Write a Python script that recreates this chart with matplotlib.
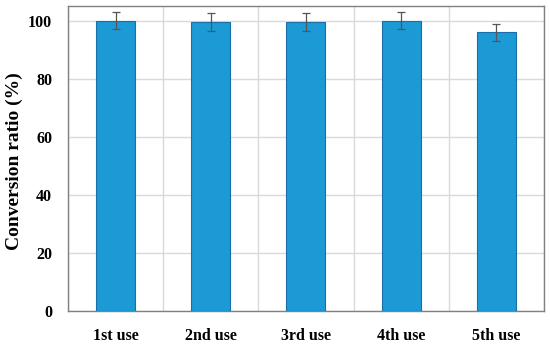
import matplotlib
matplotlib.use("Agg")
import matplotlib.pyplot as plt
import numpy as np

categories = ["1st use", "2nd use", "3rd use", "4th use", "5th use"]
values = [100.0, 99.5, 99.5, 100.0, 96.0]
errors = [3.0, 3.0, 3.0, 3.0, 2.9]

plt.rcParams['font.family'] = ['Liberation Serif', 'DejaVu Serif']

fig = plt.figure(figsize=(5.5, 3.46), dpi=100)
ax = fig.add_axes([0.1236, 0.1012, 0.8654, 0.8815])
x = np.arange(len(categories))
ax.bar(x, values, width=0.41, color="#1B9AD6", edgecolor="#1A6FA8", linewidth=0.8, zorder=3)
ax.errorbar(x, values, yerr=errors, fmt="none", ecolor="#555555", elinewidth=0.9, capsize=3, capthick=0.9, zorder=4)
ax.set_xlim(-0.5, len(categories) - 0.5)
ax.set_ylim(0, 105)
ax.set_yticks(np.arange(0, 101, 20))
ax.set_xticks(x)
ax.set_xticklabels(categories, fontsize=11.5, fontweight="bold")
for lab in ax.get_yticklabels():
    lab.set_fontsize(11.5)
    lab.set_fontweight("bold")
ax.set_xticks(np.arange(-0.5, len(categories), 1), minor=True)
ax.grid(axis="y", which="major", color="#D9D9D9", linewidth=1, zorder=0)
ax.grid(axis="x", which="minor", color="#D9D9D9", linewidth=1, zorder=0)
ax.tick_params(axis="both", which="both", length=0)
ax.tick_params(axis="x", pad=12)
ax.tick_params(axis="y", pad=11.5)
for s in ax.spines.values():
    s.set_color("#808080")
    s.set_linewidth(1.0)
ax.set_ylabel("Conversion ratio (%)", fontsize=14, fontweight="bold")
ax.yaxis.set_label_coords(-0.094, 0.49)
fig.savefig("out.png", dpi=100)
